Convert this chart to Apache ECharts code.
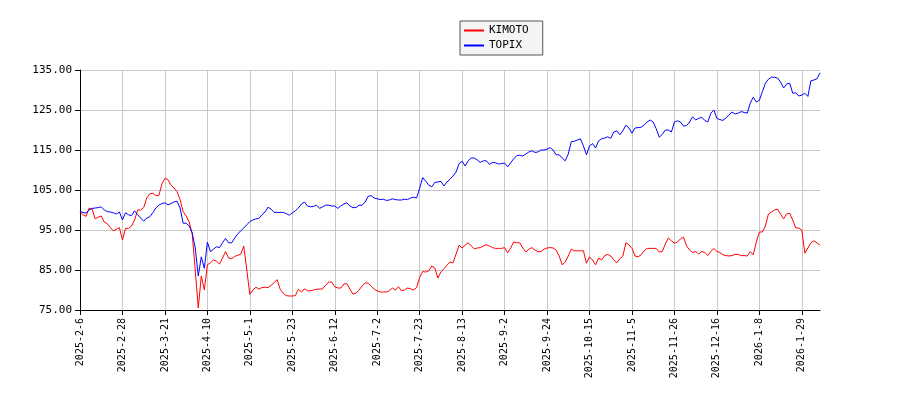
<!DOCTYPE html>
<html>
<head>
<meta charset="utf-8">
<script src="https://cdn.jsdelivr.net/npm/echarts@6/dist/echarts.min.js"></script>
<style>html,body{margin:0;padding:0;background:#fff}#main{width:900px;height:400px}</style>
</head>
<body>
<div id="main"></div>
<script>
var kimoto = [
    99.6, 98.8, 98.4, 100.5, 100.2, 97.8, 98.2, 98.5, 97, 96.6, 95.6, 94.8, 95.2, 95.6, 92.5,
    95.4, 95.4, 96, 97.5, 100, 100, 100.6, 103, 104, 104.2, 103.6, 103.6, 106.5, 107.9,
    107.6, 106.2, 105.5, 104.6, 102.6, 99.6, 98.5, 97, 94, 85, 75.5, 83.5, 80, 86.3,
    86.8, 87.5, 87.2, 86.5, 88, 89.6, 88, 87.8, 88.4, 88.7, 88.9, 91, 85, 78.9,
    80, 80.7, 80.2, 80.6, 80.7, 80.6, 81.2, 81.8, 82.6, 80.2, 79.2, 78.6, 78.5, 78.5,
    78.6, 80.2, 79.5, 80.3, 79.8, 79.8, 80, 80.2, 80.2, 80.3, 81.2, 82, 82, 80.8,
    80.5, 80.5, 81.5, 81.6, 80.2, 79, 79.2, 80, 81, 81.8, 81.7, 81, 80.2, 79.8,
    79.5, 79.5, 79.5, 79.8, 80.5, 80, 80.8, 79.8, 80, 80.5, 80.3, 80, 80.6, 83.2,
    84.6, 84.5, 84.8, 86, 85.5, 83, 84.5, 85.3, 86.2,
    87, 86.8, 89, 91.2, 90.5, 91.2, 91.8, 91, 90.3, 90.5, 90.6, 91, 91.3, 91, 90.6,
    90.4, 90.4, 90.4, 90.6, 89.3, 90.5, 92, 91.8, 91.8, 90.5, 89.5, 90.2, 90.6, 90,
    89.6, 89.6, 90.2, 90.5, 90.6, 90.5, 90, 88.5, 86.3, 87, 88.5, 90.2, 89.8, 89.8,
    89.8, 89.8, 86.7, 88.3, 87.5, 86.3, 88, 87.5, 88.6, 88.9, 88.5, 87.5, 86.8, 87.8,
    88.5, 91.8, 91.3, 90.4, 88.5, 88.3, 88.8, 89.8, 90.4, 90.4, 90.4, 90.4, 89.5, 89.6,
    91.5, 93, 92.3, 91.7, 92, 92.8, 93.2, 91, 90, 89.4, 89.6, 89, 89.6, 89.4,
    88.6, 89.6, 90.4, 89.6, 89.4, 88.8, 88.6, 88.5, 88.6, 88.9, 88.9, 88.6, 88.6, 88.5,
    89.6, 88.8, 92, 94.5, 94.5, 96, 99, 99.5, 100, 100.2, 99, 97.8, 99, 99.2,
    97.5, 95.5, 95.5, 95, 89.2, 90.5, 91.8, 92.3, 91.8, 91.2
];
var topix = [
    99.6, 99.4, 99.2, 100, 100.4, 100.5, 100.6, 100.8, 100, 99.6, 99.5, 99.3, 99, 99.5, 97.5,
    99.3, 98.8, 98.6, 99.8, 98.8, 98, 97.2, 98, 98.3, 99.3, 100.5, 101.2, 101.6, 101.8,
    101.3, 101.6, 102, 102.2, 100.5, 96.7, 96.7, 96, 94.3, 90.5, 83.5, 88.3, 85.4, 92,
    89.6, 90.2, 90.8, 90.6, 91.8, 92.9, 91.8, 91.8, 93, 94, 94.8, 95.5, 96.3, 97.1,
    97.5, 97.8, 97.9, 98.8, 99.5, 100.7, 100.2, 99.4, 99.4, 99.4, 99.4, 99.1, 98.7, 99.3,
    99.8, 100.5, 101.5, 102, 101, 100.8, 100.9, 101.2, 100.4, 100.8, 101.2, 101.2, 101, 101,
    100.4, 101, 101.5, 101.8, 101, 100.6, 100.6, 101.2, 101.2, 102, 103.4, 103.6, 103, 102.8,
    102.6, 102.7, 102.4, 102.5, 102.8, 102.6, 102.5, 102.5, 102.7, 102.6, 103, 103.2, 103, 105.5,
    108.1, 107.2, 106.2, 105.8, 106.9, 107, 107.2, 106, 107,
    107.7, 108.5, 109.5, 111.6, 112.2, 111, 112.3, 113, 113, 112.5, 111.9, 112.3, 112.3, 111.4, 111.9,
    111.8, 111.5, 111.6, 111.7, 110.8, 111.8, 112.8, 113.6, 113.7, 113.5, 114, 114.5, 114.8, 114.4,
    114.5, 115, 115, 115.2, 115.6, 115, 113.8, 113.8, 113, 112.3, 114, 117.1, 117.2, 117.5,
    117.8, 116, 113.8, 116, 116.6, 115.5, 117.3, 117.8, 118, 118.3, 117.9, 119.5, 119.8, 118.8,
    119.8, 121.2, 120.5, 119.2, 120.5, 120.6, 120.7, 121.2, 122, 122.5, 122, 120.3, 118.2, 118.9,
    120, 120, 119.5, 122, 122.3, 122, 121, 121.1, 122, 123.3, 122.5, 122.9, 123.2, 122.4,
    122, 124.2, 125, 122.9, 122.6, 122.4, 123, 123.8, 124.5, 124, 124.2, 124.6, 124.4, 124.2,
    126.7, 128.2, 127, 127.4, 129.6, 131.7, 132.7, 133.2, 133.2, 133, 132, 130.5, 131.5, 131.7,
    129.2, 129.3, 128.5, 128.7, 129.2, 128.4, 132.3, 132.5, 132.8, 134.3
];
// Tokyo exchange closed days in the period
var holidays = ['2025-2-11', '2025-2-24', '2025-3-20', '2025-4-29', '2025-5-5', '2025-5-6',
    '2025-7-21', '2025-8-11', '2025-9-15', '2025-9-23', '2025-10-13', '2025-11-3',
    '2025-11-24', '2025-12-31', '2026-1-1', '2026-1-2', '2026-1-12'];

var dates = [];
var d = new Date(2025, 1, 6);
while (dates.length < kimoto.length) {
    var s = d.getFullYear() + '-' + (d.getMonth() + 1) + '-' + d.getDate();
    var wd = d.getDay();
    if (wd !== 0 && wd !== 6 && holidays.indexOf(s) < 0) dates.push(s);
    d.setDate(d.getDate() + 1);
}

var font = 'DejaVu Sans Mono';
var chart = echarts.init(document.getElementById('main'));
chart.setOption({
    animation: false,
    textStyle: { fontFamily: font },
    legend: {
        orient: 'vertical',
        left: 460, top: 21,
        padding: [4, 14, 4, 4],
        itemGap: 4,
        itemWidth: 20, itemHeight: 2,
        icon: 'rect',
        backgroundColor: '#f4f4f4',
        borderColor: '#555', borderWidth: 1, borderRadius: 0,
        textStyle: { fontFamily: font, fontSize: 11, color: '#000' },
        data: ['KIMOTO', 'TOPIX']
    },
    grid: { left: 80, right: 80, top: 70, bottom: 90 },
    xAxis: {
        type: 'category',
        data: dates,
        boundaryGap: false,
        axisLine: { lineStyle: { color: '#000' } },
        axisTick: { interval: 13, lineStyle: { color: '#000' } },
        axisLabel: { interval: 13, rotate: 90, color: '#000', fontSize: 10, fontFamily: font },
        splitLine: { show: true, interval: 13, lineStyle: { color: '#c8c8c8' } }
    },
    yAxis: {
        type: 'value',
        min: 75, max: 135, interval: 10,
        axisLine: { show: true, lineStyle: { color: '#000' } },
        axisTick: { show: true, lineStyle: { color: '#000' } },
        axisLabel: { color: '#000', fontSize: 11, fontFamily: font, formatter: function (v) { return v.toFixed(2); } },
        splitLine: { lineStyle: { color: '#c8c8c8' } }
    },
    series: [
        { name: 'KIMOTO', type: 'line', data: kimoto, showSymbol: false, color: '#ff0000', lineStyle: { width: 1, color: '#ff0000' } },
        { name: 'TOPIX', type: 'line', data: topix, showSymbol: false, color: '#0000ff', lineStyle: { width: 1, color: '#0000ff' } }
    ]
});
</script>
</body>
</html>
